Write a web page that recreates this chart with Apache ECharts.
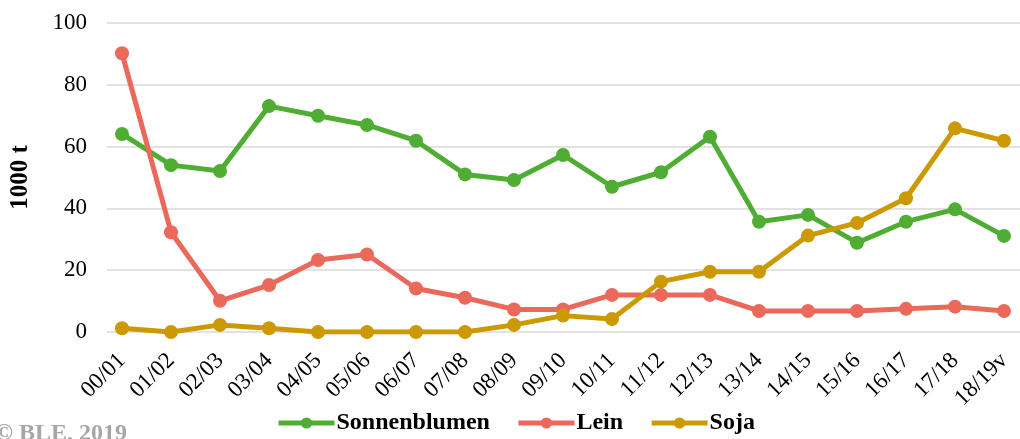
<!DOCTYPE html>
<html><head><meta charset="utf-8">
<script src="https://cdn.jsdelivr.net/npm/echarts@6/dist/echarts.min.js"></script>
<style>html,body{margin:0;padding:0;background:#fff}#c{width:1020px;height:439px}</style>
</head><body><div id="c"></div>
<script>
const categories = ['00/01','01/02','02/03','03/04','04/05','05/06','06/07','07/08','08/09','09/10','10/11','11/12','12/13','13/14','14/15','15/16','16/17','17/18','18/19v'];
const sonnenblumen = [64.1,54,52.1,73.1,70,67,61.9,51,49.2,57.3,47,51.7,63.2,35.7,37.9,28.9,35.7,39.7,31.1];
const lein = [90.2,32.3,10.1,15.2,23.3,25.1,14.1,11.1,7.3,7.3,12,12,12,6.8,6.8,6.8,7.5,8.2,6.8];
const soja = [1.2,0,2.3,1.2,0,0,0,0,2.3,5.3,4.2,16.3,19.5,19.5,31.2,35.3,43.3,65.9,61.9];
const yTicks = {min:0,max:100,interval:20};
const font = 'Liberation Serif';
const chart = echarts.init(document.getElementById('c'));
function s(name, data, color){
  return {name, type:'line', data, xAxisIndex:1, yAxisIndex:1, symbol:'circle', symbolSize:14,
    lineStyle:{width:5,color}, itemStyle:{color}, z: 3};
}
chart.setOption({
  animation:false,
  textStyle:{fontFamily:font},
  grid:[
    {left:98, top:23, right:0, height:309, containLabel:false},
    {left:122, top:23, right:16, height:309, containLabel:false}
  ],
  legend:{top:406, left:271, itemWidth:56, itemHeight:14, itemGap:26,
    lineStyle:{width:5},
    textStyle:{fontFamily:font, fontSize:24, fontWeight:'bold', color:'#000', padding:[0,0,0,-3]},
    data:['Sonnenblumen','Lein','Soja']},
  graphic:[{type:'text', left:-5, top:422, style:{text:'© BLE, 2019', font:'bold 24px Liberation Serif', fill:'#a6a6a6'}}],
  xAxis:[
    {type:'value', gridIndex:0, show:false, min:0, max:1},
    {type:'category', gridIndex:1, data:categories, boundaryGap:false,
      axisLine:{show:false}, axisTick:{show:false}, splitLine:{show:false},
      axisLabel:{rotate:45, fontFamily:font, fontSize:23, color:'#000', margin:25, interval:0}}
  ],
  yAxis:[
    {type:'value', gridIndex:0, min:yTicks.min, max:yTicks.max, interval:yTicks.interval,
      name:'1000 t', nameLocation:'middle', nameGap:64, nameRotate:90,
      nameTextStyle:{fontFamily:font, fontSize:25, fontWeight:'bold', color:'#000', padding:[0,0,10,0]},
      axisLine:{show:false}, axisTick:{show:false},
      axisLabel:{fontFamily:font, fontSize:23, color:'#000', margin:20},
      splitLine:{lineStyle:{color:'#d9d9d9', width:1.5}}},
    {type:'value', gridIndex:1, min:yTicks.min, max:yTicks.max, interval:yTicks.interval, show:false, splitLine:{show:false}}
  ],
  series:[s('Sonnenblumen', sonnenblumen, '#4fad33'), s('Lein', lein, '#eb695b'), s('Soja', soja, '#cc9a00')]
});
</script></body></html>
